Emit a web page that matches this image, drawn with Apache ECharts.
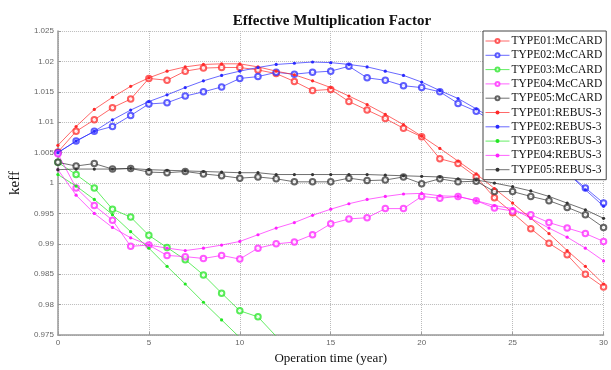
<!DOCTYPE html>
<html>
<head>
<meta charset="utf-8">
<script src="https://cdn.jsdelivr.net/npm/echarts@6/dist/echarts.min.js"></script>
<style>
  html, body { margin: 0; padding: 0; background: #fff; }
  #keffBox { width: 611px; height: 370px; }
</style>
</head>
<body>
<div id="keffBox"></div>
<script>
// 运行年份
const years = [0, 1, 2, 3, 4, 5, 6, 7, 8, 9, 10, 11, 12, 13, 14, 15, 16, 17, 18, 19, 20, 21, 22, 23, 24, 25, 26, 27, 28, 29, 30];
const yTicks = [0.975, 0.98, 0.985, 0.99, 0.995, 1, 1.005, 1.01, 1.015, 1.02, 1.025];

/* McCARD */
const type01McCARD = [1.0051, 1.0085, 1.0104, 1.0124, 1.0138, 1.0172, 1.0169, 1.0184, 1.0189, 1.019, 1.019, 1.0186, 1.018, 1.0167, 1.0152, 1.0154, 1.0134, 1.012, 1.0106, 1.009, 1.0076, 1.004, 1.0032, 1.001, 0.9976, 0.9951, 0.9925, 0.9901, 0.9882, 0.985, 0.9829];
const type02McCARD = [1.005, 1.0069, 1.0085, 1.0093, 1.0111, 1.013, 1.0132, 1.0143, 1.015, 1.0158, 1.0172, 1.0175, 1.0182, 1.0179, 1.0182, 1.0184, 1.0192, 1.0173, 1.0169, 1.016, 1.0157, 1.015, 1.0131, 1.0118, 1.01, 1.008, 1.006, 1.004, 1.0017, 0.9992, 0.9967];
const type03McCARD = [1.0034, 1.0014, 0.9992, 0.9957, 0.9944, 0.9914, 0.9894, 0.9874, 0.9849, 0.9819, 0.979, 0.978, 0.9748];
const type04McCARD = [1.0048, 0.9992, 0.9963, 0.9939, 0.9896, 0.9898, 0.9881, 0.9879, 0.9876, 0.9881, 0.9875, 0.9893, 0.99, 0.9903, 0.9915, 0.9933, 0.9941, 0.9943, 0.9958, 0.9958, 0.9978, 0.9975, 0.9978, 0.9971, 0.9959, 0.9954, 0.9948, 0.9935, 0.9926, 0.9917, 0.9904];
const type05McCARD = [1.0034, 1.0028, 1.0032, 1.0023, 1.0024, 1.0018, 1.0017, 1.0019, 1.0015, 1.0012, 1.0008, 1.001, 1.0007, 1.0002, 1.0002, 1.0002, 1.0008, 1.0004, 1.0005, 1.001, 0.9999, 1.0007, 1.0002, 1.0003, 0.9986, 0.9986, 0.9978, 0.9971, 0.996, 0.9948, 0.9927];

/* REBUS-3 */
const type01Rebus = [1.0062, 1.0093, 1.0121, 1.0141, 1.0159, 1.0173, 1.0184, 1.0191, 1.0195, 1.0196, 1.0196, 1.0191, 1.0184, 1.0178, 1.0168, 1.0157, 1.0143, 1.0129, 1.0113, 1.0096, 1.0077, 1.0057, 1.0036, 1.0015, 0.9991, 0.9967, 0.9942, 0.9917, 0.9889, 0.9863, 0.9834];
const type02Rebus = [1.005, 1.0069, 1.0085, 1.0104, 1.012, 1.0134, 1.0145, 1.0157, 1.0168, 1.0177, 1.0184, 1.019, 1.0195, 1.0197, 1.0199, 1.0198, 1.0195, 1.0191, 1.0184, 1.0177, 1.0166, 1.0152, 1.0139, 1.0122, 1.0104, 1.0085, 1.0064, 1.0041, 1.0017, 0.9989, 0.9962];
const type03Rebus = [1.0014, 0.9995, 0.9973, 0.9948, 0.992, 0.9893, 0.9863, 0.9834, 0.9804, 0.9775, 0.9746];
const type04Rebus = [1.0022, 0.998, 0.995, 0.9927, 0.991, 0.9898, 0.9893, 0.9889, 0.9893, 0.9898, 0.9904, 0.9915, 0.9926, 0.9935, 0.9947, 0.9957, 0.9966, 0.9973, 0.9978, 0.9982, 0.9983, 0.9979, 0.9978, 0.9971, 0.9963, 0.9958, 0.9942, 0.9926, 0.9911, 0.9893, 0.9872];
const type05Rebus = [1.0022, 1.0023, 1.0023, 1.0023, 1.0024, 1.0022, 1.0021, 1.002, 1.0019, 1.0018, 1.0017, 1.0017, 1.0014, 1.0014, 1.0014, 1.0014, 1.0014, 1.0014, 1.0013, 1.0012, 1.0011, 1.001, 1.0007, 1.0005, 1.0, 0.9994, 0.9987, 0.9978, 0.9967, 0.9956, 0.9942];

const seriesNames = ["TYPE01:McCARD", "TYPE02:McCARD", "TYPE03:McCARD", "TYPE04:McCARD", "TYPE05:McCARD",
  "TYPE01:REBUS-3", "TYPE02:REBUS-3", "TYPE03:REBUS-3", "TYPE04:REBUS-3", "TYPE05:REBUS-3"];
const seriesData = [type01McCARD, type02McCARD, type03McCARD, type04McCARD, type05McCARD,
  type01Rebus, type02Rebus, type03Rebus, type04Rebus, type05Rebus];
const colors = ["#ff2a2a", "#2a2aff", "#22e622", "#ff22ff", "#333333"];

const serif = "Liberation Serif";

function buildSeries(name, values, index) {
  const isMc = index < 5;
  return {
    name: name,
    type: "line",
    clip: true,
    data: values.map((v, i) => [years[i], v]),
    symbol: isMc ? "emptyCircle" : "circle",
    symbolSize: isMc ? 5.5 : 3.2,
    color: colors[index % 5],
    lineStyle: { width: 1, opacity: 0.7 },
    itemStyle: isMc ? { borderWidth: 0.8, opacity: 0.75 } : { borderWidth: 0 },
    animation: false,
    z: isMc ? 2 : 3,
  };
}

const option = {
  backgroundColor: "#fff",
  title: {
    text: "Effective Multiplication Factor",
    left: 327,
    top: 9,
    textAlign: "center",
    textStyle: { fontFamily: serif, fontSize: 15, fontWeight: "bold", color: "#111" },
  },
  legend: {
    orient: "vertical",
    left: 483,
    top: 31,
    padding: [4, 4, 4, 2],
    itemGap: 2.3,
    itemWidth: 24,
    itemHeight: 5,
    itemStyle: { borderWidth: 0.8 },
    lineStyle: { width: 1 },
    backgroundColor: "#fff",
    borderColor: "#444",
    borderWidth: 1,
    borderRadius: 0,
    data: seriesNames,
    textStyle: { fontFamily: serif, fontSize: 11.5, color: "#111", padding: [0, 0, 0, -3] },
    z: 10,
  },
  grid: { left: 46, right: 5, top: 31, bottom: 27 },
  xAxis: {
    type: "value",
    min: 0,
    max: 30,
    interval: 5,
    name: "Operation time (year)",
    nameLocation: "middle",
    nameGap: 13,
    nameTextStyle: { fontFamily: serif, fontSize: 13, color: "#111" },
    axisLine: { lineStyle: { color: "#999", width: 1.5 } },
    axisTick: { inside: true, length: 3, lineStyle: { color: "#999" } },
    axisLabel: { fontSize: 8, color: "#666", margin: 4, fontFamily: "Liberation Sans" },
    splitLine: { show: true, lineStyle: { type: "dotted", color: "#bbb" } },
  },
  yAxis: {
    type: "value",
    min: yTicks[0],
    max: yTicks[yTicks.length - 1],
    interval: 0.005,
    name: "keff",
    nameLocation: "middle",
    nameGap: 27,
    nameRotate: 90,
    nameTextStyle: { fontFamily: serif, fontSize: 15, color: "#111" },
    axisLine: { show: true, lineStyle: { color: "#999", width: 1.5 } },
    axisTick: { show: true, inside: true, length: 3, lineStyle: { color: "#999" } },
    axisLabel: { fontSize: 8, color: "#666", margin: 4, fontFamily: "Liberation Sans" },
    splitLine: { show: true, lineStyle: { type: "dotted", color: "#bbb" } },
  },
  series: seriesNames.map((n, i) => buildSeries(n, seriesData[i], i)),
};

const myChart = echarts.init(document.getElementById("keffBox"));
myChart.setOption(option);
window.addEventListener("resize", () => {
  myChart.resize();
});
</script>
</body>
</html>
